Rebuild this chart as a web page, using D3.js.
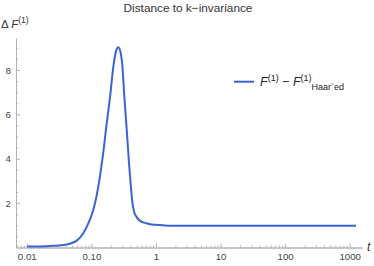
<!DOCTYPE html>
<html><head><meta charset="utf-8">
<script src="https://cdn.jsdelivr.net/npm/d3@7"></script>
<style>
html,body{margin:0;padding:0;background:#fff;}
svg{display:block;font-family:"Liberation Sans",Arial,sans-serif;}
</style></head>
<body>
<svg id="chart" width="374" height="266"></svg>
<script>
// ---- data ----
const tValues = [0.0101,0.0229,0.0415,0.0593,0.075,0.0897,0.107,0.12,0.135,0.15,0.173,0.195,0.219,0.241,0.261,0.283,0.3,0.324,0.353,0.383,0.41,0.435,0.46,0.5,0.567,0.72,0.81,1.29,1.65,3,10,30,100,300,1000,1250];
const fValues = [0.04,0.07,0.14,0.31,0.64,1.09,1.69,2.3,3.15,4.09,5.6,6.8,8.15,8.85,9.02,8.8,8.3,6.8,5.3,3.79,2.7,1.95,1.6,1.38,1.2,1.09,1.05,1.0,0.98,0.975,0.975,0.975,0.975,0.975,0.975,0.975];
const xTickValues = [0.01,0.1,1,10,100,1000];
const xTickLabels = ["0.01","0.10","1","10","100","1000"];
const yTickValues = [2,4,6,8];
const yTickLabels = ["2","4","6","8"];
const titleText = "Distance to k\u2212invariance";

// ---- layout ----
const svg = d3.select("#chart");
const x = d3.scaleLog().domain([0.00681, 1550]).range([16, 362]);
const y = d3.scaleLinear().domain([0, 9.44]).range([247.5, 38]);

const axisColor = "#b3b3b3";
const labelColor = "#444";

// minor ticks
const xMinor = [];
[0.01,0.1,1,10,100,1000].forEach(d => { for (let k=2;k<=9;k++){ const v=d*k; if (v<1550) xMinor.push(v);} });
[0.007,0.008,0.009].forEach(v=>xMinor.push(v));
const yMinor = d3.range(0.5, 9.44, 0.5).filter(v => !yTickValues.includes(v));

const gx = svg.append("g").attr("transform", `translate(0,${y(0)})`)
  .call(d3.axisBottom(x).tickValues(xTickValues).tickFormat((d,i)=>xTickLabels[i]).tickSizeInner(-4).tickSizeOuter(0).tickPadding(6));
const gxm = svg.append("g").attr("transform", `translate(0,${y(0)})`)
  .call(d3.axisBottom(x).tickValues(xMinor).tickFormat("").tickSizeInner(-2).tickSizeOuter(0));
const gy = svg.append("g").attr("transform", `translate(${x.range()[0]},0)`)
  .call(d3.axisLeft(y).tickValues(yTickValues).tickFormat((d,i)=>yTickLabels[i]).tickSizeInner(-4).tickSizeOuter(0).tickPadding(5));
const gym = svg.append("g").attr("transform", `translate(${x.range()[0]},0)`)
  .call(d3.axisLeft(y).tickValues(yMinor).tickFormat("").tickSizeInner(-2).tickSizeOuter(0));

[gx,gxm,gy,gym].forEach(g=>{
  g.selectAll(".domain").attr("stroke", axisColor).attr("stroke-width",1);
  g.selectAll(".tick line").attr("stroke", axisColor).attr("stroke-width",1);
  g.selectAll(".tick text").attr("fill", labelColor).attr("font-size", 9.7)
    .attr("font-family","\"Liberation Sans\",Arial,sans-serif");
});

// curve
const line = d3.line().x((d,i)=>x(tValues[i])).y(d=>y(d)).curve(d3.curveMonotoneX);
svg.append("path").datum(fValues).attr("d", line)
  .attr("fill","none").attr("stroke","#3a64cf").attr("stroke-width",2)
  .attr("stroke-linejoin","round");

// title
svg.append("text").attr("x",188).attr("y",12).attr("text-anchor","middle")
  .attr("font-size",11.8).attr("fill","#333").text(titleText);

// y-axis label
const yl = svg.append("text").attr("x",1).attr("y",28).attr("font-size",11.5).attr("fill","#333");
yl.append("tspan").text("\u0394 ");
yl.append("tspan").attr("font-style","italic").text("F");
yl.append("tspan").attr("font-size",8.5).attr("dy",-5.5).text("(1)");

// x-axis label
svg.append("text").attr("x",367).attr("y",251).attr("font-size",12).attr("font-style","italic")
  .attr("fill","#333").text("t");

// legend
svg.append("line").attr("x1",234).attr("x2",254).attr("y1",81.7).attr("y2",81.7)
  .attr("stroke","#3a64cf").attr("stroke-width",2);
const lg = svg.append("text").attr("x",260).attr("y",86).attr("font-size",12.5).attr("fill","#222");
lg.append("tspan").attr("font-style","italic").text("F");
lg.append("tspan").attr("font-size",9).attr("dy",-5.5).text("(1)");
lg.append("tspan").attr("dy",5.5).text(" \u2212 ");
lg.append("tspan").attr("font-style","italic").text("F");
lg.append("tspan").attr("font-size",9).attr("dy",-5.5).text("(1)");
lg.append("tspan").attr("font-size",9).attr("dy",9).text("Haar`ed");
</script>
</body></html>
